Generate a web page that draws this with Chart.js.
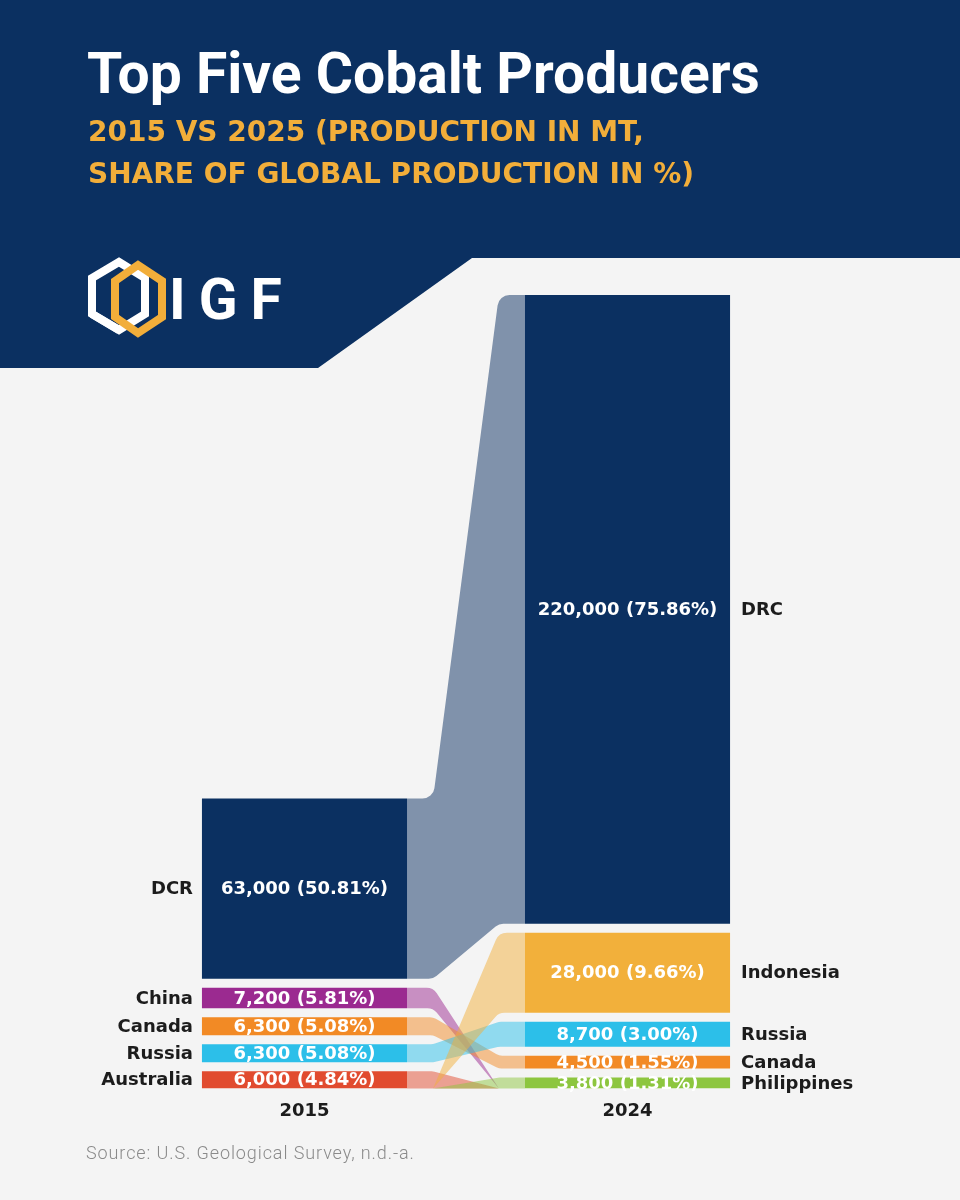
<!DOCTYPE html>
<html>
<head>
<meta charset="utf-8">
<script src="https://cdn.jsdelivr.net/npm/chart.js@4.4.1/dist/chart.umd.min.js"></script>
<style>
body { margin: 0; background: #f4f4f4; }
#page { position: relative; width: 960px; height: 1200px; overflow: hidden; }
#band { position: absolute; left: 0; top: 0; width: 960px; height: 368px; background: #0b3061;
  clip-path: polygon(0 0, 960px 0, 960px 258px, 472px 258px, 318px 368px, 0 368px); }
#chart { position: absolute; left: 0; top: 0; }
h1 { position: absolute; left: 87px; top: 40px; margin: 0; color: #fff; font: 700 57px Roboto, sans-serif; line-height: normal; }
.sub { position: absolute; left: 88px; top: 111px; margin: 0; color: #f2ae3a; font: 700 28px "DejaVu Sans", sans-serif; line-height: 42px; }
#logo { position: absolute; left: 80px; top: 256px; }
#igf { position: absolute; left: 169px; top: 271px; color: #fff; font: 700 57px Roboto, sans-serif; letter-spacing: 13px; line-height: 1; }
.src { position: absolute; left: 86px; top: 1142px; color: #8a8a8a; font: 300 18px Roboto, sans-serif; letter-spacing: 0.9px; }
</style>
</head>
<body>
<div id="page">
  <div id="band"></div>
  <canvas id="chart" width="960" height="1200"></canvas>
  <h1>Top Five Cobalt Producers</h1>
  <p class="sub">2015 VS 2025 (PRODUCTION IN MT,<br>SHARE OF GLOBAL PRODUCTION IN %)</p>
  <svg id="logo" width="90" height="84" viewBox="0 0 90 84">
    <polygon points="39,6 65,22 65,58 39,74 12,58 12,22" fill="none" stroke="#fff" stroke-width="8"/>
    <polygon points="58,9 82,25 82,61 58,77 35,61 35,25" fill="none" stroke="#f2ae3a" stroke-width="8"/>
    <polyline points="12,58 39,74" fill="none" stroke="#fff" stroke-width="8"/>
  </svg>
  <div id="igf">IGF</div>
  <div class="src">Source: U.S. Geological Survey, n.d.-a.</div>
</div>
<script>
// columns
const years = ['2015', '2024'];

// 2015, top to bottom
const producers2015 = ['DCR', 'China', 'Canada', 'Russia', 'Australia'];
const output2015 = [63000, 7200, 6300, 6300, 6000];
const share2015 = [50.81, 5.81, 5.08, 5.08, 4.84];

// 2024, top to bottom
const producers2024 = ['DRC', 'Indonesia', 'Russia', 'Canada', 'Philippines'];
const output2024 = [220000, 28000, 8700, 4500, 3800];
const share2024 = [75.86, 9.66, 3.00, 1.55, 1.31];

// flows by rank: [2015 rank, 2024 rank], null = not in top five that year
const links = [[0, 0], [1, null], [2, 3], [3, 2], [4, null], [null, 1], [null, 4]];

const colors = {
  DCR: '#0b3061', DRC: '#0b3061', China: '#9b2a90', Canada: '#f28a25', Russia: '#2cbfe9',
  Australia: '#e14b2f', Indonesia: '#f2b03b', Philippines: '#8dc63f'
};

// layout
const GAP = 9;
const TOP = 295, BOTTOM = 1088;
const plotH = BOTTOM - TOP;
const total2024 = output2024.reduce((a, b) => a + b, 0);
const yMax = total2024 * plotH / (plotH - 4 * GAP);
const labelFont = 'bold 18px "DejaVu Sans"';

function fmt(v, s) {
  return v.toLocaleString('en-US') + ' (' + s.toFixed(2) + '%)';
}

// datasets per rank, bottom one first so it stacks lowest
const datasets = [];
for (let r = producers2015.length - 1; r >= 0; r--) {
  datasets.push({
    data: [output2015[r], output2024[r]],
    backgroundColor: [colors[producers2015[r]], colors[producers2024[r]]],
    rank: r
  });
}

function barOf(chart, col, rank) {
  const dsIndex = chart.data.datasets.findIndex(d => d.rank === rank);
  return chart.getDatasetMeta(dsIndex).data[col];
}

function hexA(hex, a) {
  const n = parseInt(hex.slice(1), 16);
  return `rgba(${n >> 16},${(n >> 8) & 255},${n & 255},${a})`;
}

// polygon, corners flagged true get rounded
function roundedShape(ctx, pts, R) {
  ctx.beginPath();
  ctx.moveTo(pts[0][0], pts[0][1]);
  for (let i = 1; i < pts.length; i++) {
    const p = pts[i], n = pts[(i + 1) % pts.length];
    if (p[2]) ctx.arcTo(p[0], p[1], n[0], n[1], R);
    else ctx.lineTo(p[0], p[1]);
  }
  ctx.closePath();
  ctx.fill();
}

// open up the stacks: each segment moves up by its stack position
const gapPlugin = {
  id: 'gaps',
  afterDatasetsUpdate(chart) {
    chart.data.datasets.forEach((ds, i) => {
      chart.getDatasetMeta(i).data.forEach(bar => {
        bar.y -= i * GAP;
        bar.base -= i * GAP;
      });
    });
  }
};

const flowPlugin = {
  id: 'flows',
  beforeDatasetsDraw(chart) {
    const ctx = chart.ctx;
    const baseY = chart.chartArea.bottom;
    const a0 = barOf(chart, 0, 0), a1 = barOf(chart, 1, 0);
    const x0 = a0.x + a0.width / 2;
    const x1 = a1.x - a1.width / 2;
    const xa = x0 + 26, xb = x1 - 26;
    links.forEach(([r0, r1]) => {
      let pts, col;
      const s = r0 !== null ? barOf(chart, 0, r0) : null;
      const e = r1 !== null ? barOf(chart, 1, r1) : null;
      col = s ? colors[producers2015[r0]] : colors[producers2024[r1]];
      if (s && e) {
        pts = [[x0, s.y], [xa, s.y, 1], [xb, e.y, 1], [x1, e.y], [x1, e.base], [xb, e.base, 1], [xa, s.base, 1], [x0, s.base]];
      } else if (s) {
        pts = [[x0, s.y], [xa, s.y, 1], [xb, baseY], [xa, s.base, 1], [x0, s.base]];
      } else {
        pts = [[xa, baseY], [xb, e.y, 1], [x1, e.y], [x1, e.base], [xb, e.base, 1]];
      }
      ctx.save();
      ctx.fillStyle = hexA(col, 0.5);
      roundedShape(ctx, pts, 12);
      ctx.restore();
    });
  }
};

const labelPlugin = {
  id: 'labels',
  afterDatasetsDraw(chart) {
    const ctx = chart.ctx;
    ctx.save();
    ctx.font = labelFont;
    ctx.textBaseline = 'middle';
    for (let r = 0; r < producers2015.length; r++) {
      const p = barOf(chart, 0, r), q = barOf(chart, 1, r);
      const pm = (p.y + p.base) / 2, qm = (q.y + q.base) / 2;
      ctx.fillStyle = '#fff';
      ctx.textAlign = 'center';
      ctx.fillText(fmt(output2015[r], share2015[r]), p.x, pm + 1);
      ctx.fillText(fmt(output2024[r], share2024[r]), q.x, qm + 1);
      ctx.fillStyle = '#1c1c1c';
      ctx.textAlign = 'right';
      ctx.fillText(producers2015[r], p.x - p.width / 2 - 9, pm + 1);
      ctx.textAlign = 'left';
      ctx.fillText(producers2024[r], q.x + q.width / 2 + 11, qm + 1);
    }
    ctx.restore();
  }
};

new Chart(document.getElementById('chart'), {
  type: 'bar',
  data: { labels: years, datasets: datasets },
  options: {
    responsive: false,
    animation: false,
    barPercentage: 1,
    categoryPercentage: 0.635,
    layout: { padding: { top: TOP, left: 143, right: 171, bottom: 66 } },
    scales: {
      x: {
        stacked: true,
        grid: { display: false, drawTicks: false },
        border: { display: false },
        ticks: { color: '#1c1c1c', padding: 12, font: { family: 'DejaVu Sans', size: 18, weight: 'bold' } }
      },
      y: { stacked: true, display: false, min: 0, max: yMax }
    },
    plugins: { legend: { display: false }, tooltip: { enabled: false } }
  },
  plugins: [gapPlugin, flowPlugin, labelPlugin]
});
</script>
</body>
</html>
